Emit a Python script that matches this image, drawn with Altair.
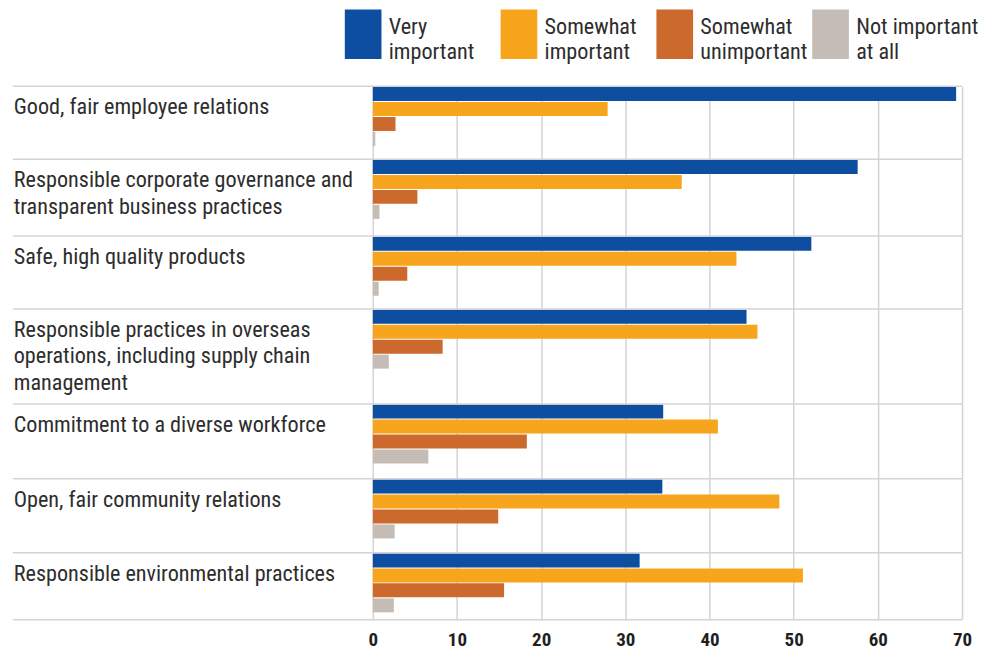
import altair as alt
import pandas as pd

# ---------------- data ----------------
CATEGORIES = [
    "Good, fair employee relations",
    "Responsible corporate governance and\ntransparent business practices",
    "Safe, high quality products",
    "Responsible practices in overseas\noperations, including supply chain\nmanagement",
    "Commitment to a diverse workforce",
    "Open, fair community relations",
    "Responsible environmental practices",
]
SERIES = ["Very important", "Somewhat important", "Somewhat unimportant", "Not important at all"]
SERIES_LINES = ["Very\nimportant", "Somewhat\nimportant", "Somewhat\nunimportant", "Not important\nat all"]

VERY_IMPORTANT = [69.3, 57.6, 52.1, 44.4, 34.5, 34.4, 31.7]
SOMEWHAT_IMPORTANT = [27.9, 36.7, 43.2, 45.7, 41.0, 48.3, 51.1]
SOMEWHAT_UNIMPORTANT = [2.7, 5.3, 4.1, 8.3, 18.3, 14.9, 15.6]
NOT_IMPORTANT = [0.3, 0.8, 0.7, 1.9, 6.6, 2.6, 2.5]

TICKS = [0, 10, 20, 30, 40, 50, 60, 70]
COLORS = ["#0d4ea1", "#f7a51d", "#cb6a2c", "#c5bdb5"]

# ---------------- layout / style ----------------
FONT = "Liberation Sans Narrow, Roboto Condensed, DejaVu Sans Condensed, Arial Narrow, sans-serif"
TEXT_COLOR = "#2d2d2d"
LINE_COLOR = "#d4d4d4"
FS = 22.2
W = 590
ROW_H = [73, 77, 73, 95, 75, 74, 67]
LEGEND_H = 77
RULE_LEFT = -360.4

all_values = [VERY_IMPORTANT, SOMEWHAT_IMPORTANT, SOMEWHAT_UNIMPORTANT, NOT_IMPORTANT]
records = []
for ci, cat in enumerate(CATEGORIES):
    for si, s in enumerate(SERIES):
        records.append({"idx": ci, "category": cat, "series": s, "value": all_values[si][ci]})
df = pd.DataFrame(records)
labels_df = pd.DataFrame({"idx": list(range(len(CATEGORIES))), "category": CATEGORIES})
legend_df = pd.DataFrame({"series": SERIES, "label": SERIES_LINES})

color = alt.Color("series:N", scale=alt.Scale(domain=SERIES, range=COLORS), legend=None)

# ---------------- legend panel ----------------
leg_x = alt.X("series:N",
              scale=alt.Scale(type="point", domain=SERIES, range=[-28, 440], padding=0),
              axis=None)
leg_rect = alt.Chart(legend_df).mark_point(
    shape="M0,-1H1.477V1H0Z", size=2470, filled=True, opacity=1, strokeWidth=0
).encode(x=leg_x, y=alt.value(24.85), color=color)
leg_text = alt.Chart(legend_df).mark_text(
    align="left", baseline="alphabetic", dx=44, lineBreak="\n", lineHeight=25,
    fontSize=FS, font=FONT, color=TEXT_COLOR
).encode(x=leg_x, y=alt.value(24.3), text="label:N")
legend_panel = alt.layer(leg_rect, leg_text).properties(width=W, height=LEGEND_H)

# ---------------- row panels ----------------
def row_panel(i, h, last):
    axis = alt.Axis(values=TICKS, grid=True, labels=last, ticks=False, domain=False,
                    title=None, gridColor=LINE_COLOR, gridWidth=1.5,
                    labelFont=FONT, labelFontSize=19, labelFontWeight="bold",
                    labelColor="#1f1f1f", labelPadding=10.5, labelFlush=False)
    bars = alt.Chart(df).transform_filter(alt.datum.idx == i).mark_bar().encode(
        x=alt.X("value:Q", scale=alt.Scale(domain=[0, 70], nice=False), axis=axis),
        y=alt.Y("idx:O", scale=alt.Scale(paddingInner=0, paddingOuter=0), axis=None),
        yOffset=alt.YOffset("series:N",
                            scale=alt.Scale(domain=SERIES, range=[0.7, 59.7],
                                            paddingInner=1 / 15, paddingOuter=0)),
        color=color,
    )
    lab = alt.Chart(labels_df).transform_filter(alt.datum.idx == i)
    sep = lab.mark_rule(color=LINE_COLOR, strokeWidth=1.5).encode(
        x=alt.value(RULE_LEFT), x2=alt.value(W), y=alt.value(0))
    text = lab.mark_text(
        align="left", baseline="alphabetic", lineBreak="\n", lineHeight=26.5,
        fontSize=FS, font=FONT, color=TEXT_COLOR
    ).encode(x=alt.value(-359.5), y=alt.value(28), text="category:N")
    layers = [bars, sep, text]
    if last:
        layers.append(lab.mark_rule(color=LINE_COLOR, strokeWidth=1.5).encode(
            x=alt.value(RULE_LEFT), x2=alt.value(W), y=alt.value(h)))
    return alt.layer(*layers).properties(width=W, height=h)

panels = [row_panel(i, h, i == len(CATEGORIES) - 1) for i, h in enumerate(ROW_H)]

chart = alt.vconcat(legend_panel, *panels, spacing=0, bounds="flush").resolve_scale(
    x="independent", y="independent"
).properties(
    padding={"left": 3.25, "top": 1, "right": 5, "bottom": 0},
    background="white",
).configure_view(stroke=None)

chart.save("out.html", embed_options={"renderer": "svg", "actions": False})
